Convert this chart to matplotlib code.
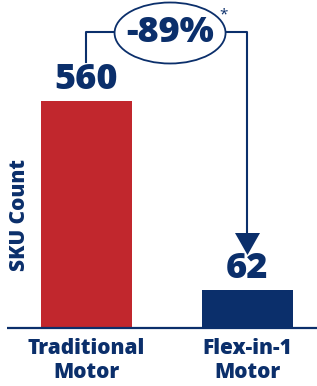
import matplotlib
matplotlib.use("Agg")
import matplotlib.pyplot as plt
from matplotlib.patches import Ellipse

categories = ["Traditional\nMotor", "Flex-in-1\nMotor"]
values = [560, 62]
colors = ["#C1272D", "#0B2F6B"]
change_label = "-89%"
ylabel = "SKU Count"

NAVY = "#0B2F6B"
FONT = ["Open Sans", "DejaVu Sans"]
WT = 800

W, H = 317, 386
fig = plt.figure(figsize=(W / 100, H / 100), dpi=100)
ax = fig.add_axes([0, 0, 1, 1])

base = -38
px_per_x = 161.0
px_per_y = 0.3796
x0_px = 86.5
xlim = (-x0_px / px_per_x, (W - x0_px) / px_per_x)
ytop = values[0] + 101 / px_per_y
ybot = ytop - H / px_per_y
ax.set_xlim(*xlim)
ax.set_ylim(ybot, ytop)
ax.axis("off")

xs = list(range(len(values)))
ax.bar(xs, [v - base for v in values], bottom=base, width=0.56, color=colors, zorder=2)

# baseline
ax.plot([xlim[0] + 7 / px_per_x, xlim[1]], [base, base], color=NAVY, lw=1.6, solid_capstyle="butt", zorder=3)

# value labels
for x, v in zip(xs, values):
    ax.text(x, v + 21 / px_per_y, f"{v}", ha="center", va="center", fontsize=26,
            fontweight=WT, color=NAVY, family=FONT)

# category labels (two lines, spaced apart)
for x, c in zip(xs, categories):
    first, second = c.split("\n")
    ax.text(x, base - 20 / px_per_y, first, ha="center", va="center", fontsize=15,
            fontweight=WT, color=NAVY, family=FONT)
    ax.text(x, base - 44 / px_per_y, second, ha="center", va="center", fontsize=15,
            fontweight=WT, color=NAVY, family=FONT)

# y label
ax.text(xlim[0] + 20 / px_per_x, base + 113 / px_per_y, ylabel, rotation=90, ha="center", va="center",
        fontsize=15, fontweight=WT, color=NAVY, family=FONT)

# bracket + ellipse
y_br = ytop - 32 / px_per_y
ex = 0.519
ew = 111 / px_per_x
eh = 61 / px_per_y
ax.plot([0, 0, ex - ew / 2], [ytop - 62 / px_per_y, y_br, y_br], color=NAVY, lw=1.5, zorder=3)
ax.plot([ex + ew / 2, 1, 1], [y_br, y_br, ytop - 236 / px_per_y], color=NAVY, lw=1.5, zorder=3)
ax.add_patch(Ellipse((ex, ytop - 33 / px_per_y), ew, eh, facecolor="white", edgecolor=NAVY, lw=1.3, zorder=4))
ax.text(ex, ytop - 33 / px_per_y, change_label, ha="center", va="center", fontsize=26,
        fontweight=WT, color=NAVY, family=FONT, zorder=5)
ax.text(ex + 53 / px_per_x, ytop - 15 / px_per_y, "*", ha="center", va="center", fontsize=11,
        color=NAVY, family=FONT, zorder=5)
# arrowhead
tip = ytop - 255 / px_per_y
hh = 22 / px_per_y
hw = 12.5 / px_per_x
ax.fill([1 - hw, 1 + hw, 1], [tip + hh, tip + hh, tip], color=NAVY, zorder=3, lw=0)

fig.savefig("out.png", dpi=100)
